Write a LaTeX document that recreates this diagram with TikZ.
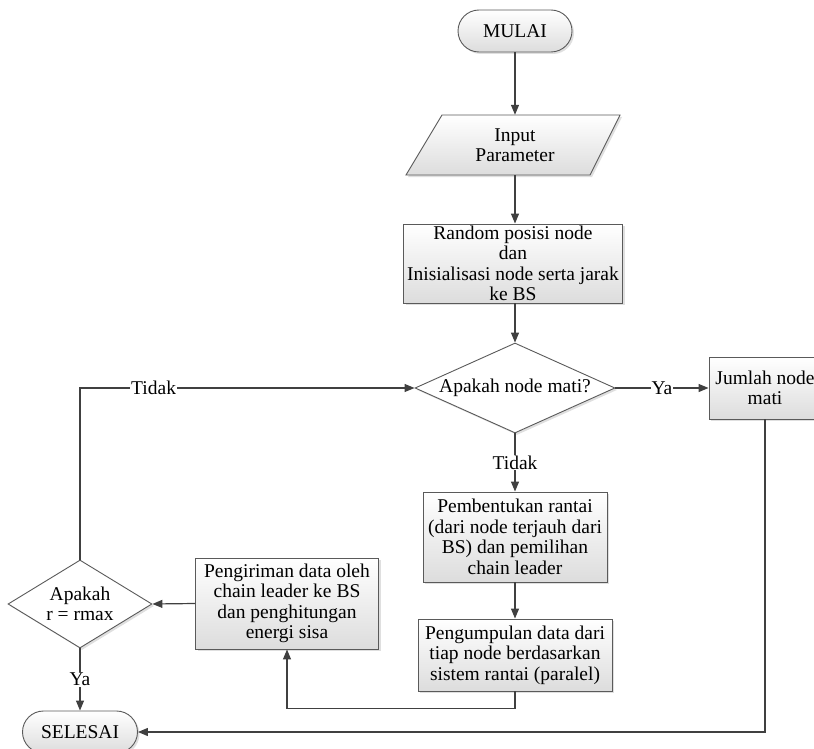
\documentclass[tikz,border=0pt]{standalone}
\usepackage{fontspec}
\setmainfont{Liberation Serif}
\usetikzlibrary{shapes.geometric,arrows.meta,shadows}
\definecolor{lc}{HTML}{404040}
\definecolor{bc}{HTML}{5A5A5A}
\begin{document}
\begin{tikzpicture}[x=1pt,y=-1pt,
  font=\fontsize{19.5}{20.5}\selectfont,
  line/.style={draw=lc, line width=1.2pt},
  arr/.style={line, -{Triangle[length=10pt,width=8pt]}},
  shad/.style={drop shadow={shadow xshift=2pt,shadow yshift=-2pt,opacity=0.25}},
  box/.style={rectangle, draw=bc, line width=0.9pt, top color=white, bottom color=gray!27,
    align=center, inner sep=0pt, shad},
  term/.style={box, rounded corners=21pt, minimum height=42pt},
  dec/.style={diamond, draw=bc, line width=0.9pt, fill=white, align=center, inner sep=0pt, shad},
  lab/.style={fill=white, inner sep=1pt}]
\useasboundingbox (0,0) rectangle (814,749);
% nodes
\node[term, minimum width=114pt] (mulai) at (515,31) {MULAI};
\path[draw=bc, line width=0.9pt, top color=white, bottom color=gray!27, shad]
  (406,175) -- (590,175) -- (620,115) -- (442,115) -- cycle;
\node[align=center, minimum width=214pt, minimum height=60pt, inner sep=0pt] (inp) at (515,145) {Input\\Parameter};
\node[box, minimum width=219pt, minimum height=79pt] (rand) at (513,263.5)
  {Random posisi node\\dan\\Inisialisasi node serta jarak\\ke BS};
\node[dec, aspect=2.22, minimum width=200pt, minimum height=90pt] (d1) at (515,388) {Apakah node mati?};
\node[box, minimum width=112pt, minimum height=62pt] (jml) at (765,388) {Jumlah node\\mati};
\node[box, minimum width=184pt, minimum height=90pt] (pem) at (515,537)
  {Pembentukan rantai\\(dari node terjauh dari\\BS) dan pemilihan\\chain leader};
\node[box, minimum width=194pt, minimum height=72pt] (peng) at (515,655)
  {Pengumpulan data dari\\tiap node berdasarkan\\sistem rantai (paralel)};
\node[box, minimum width=183pt, minimum height=91pt] (kir) at (287,603.5)
  {Pengiriman data oleh\\chain leader ke BS\\dan penghitungan\\energi sisa};
\node[dec, aspect=1.64, minimum width=144pt, minimum height=88pt] (d2) at (80,604) {Apakah\\r = rmax};
\node[term, minimum width=115pt] (sel) at (80,732) {SELESAI};
% connectors
\draw[arr] (mulai) -- (inp);
\draw[arr] (inp.south) -- (inp.south |- rand.north);
\draw[arr] (rand.south -| d1.north) -- (d1.north);
\draw[arr] (d1.east) -- node[lab] {Ya} (jml.west);
\draw[arr] (d1.south) -- node[lab] {Tidak} (pem.north);
\draw[arr] (pem) -- (peng);
\draw[arr] (peng.south) -- ++(0,17) -| (kir.south);
\draw[arr] (kir.west) -- (d2.east);
\draw[arr] (d2.north) |- node[lab, pos=0.61] {Tidak} (d1.west);
\draw[arr] (d2.south) -- node[lab] {Ya} (sel.north);
\draw[arr] (jml.south) |- (sel.east);
\end{tikzpicture}
\end{document}
